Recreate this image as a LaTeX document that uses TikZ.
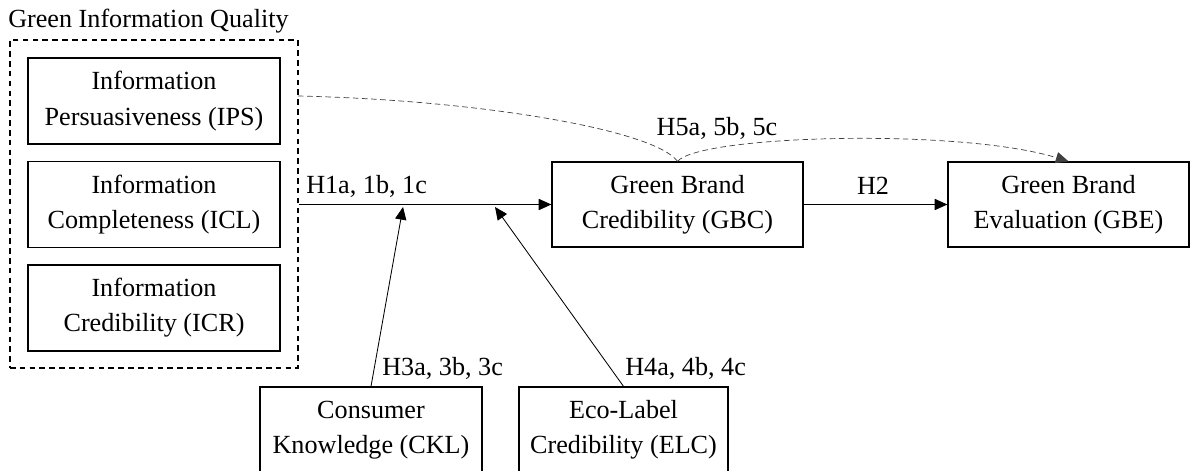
\documentclass[tikz,border=0pt]{standalone}
\usepackage{fontspec}
\setmainfont{Liberation Serif}
\usetikzlibrary{arrows.meta}

\begin{document}
\begin{tikzpicture}[x=0.025cm,y=0.025cm,
    font=\fontsize{18.6}{25}\selectfont,
    box/.style={draw,line width=0.9pt,align=center,inner sep=0pt},
    link/.style={line width=0.6pt,-{Triangle[length=9pt,width=8pt]}},
    hyp/.style={inner sep=0pt}]
        \useasboundingbox (0,0) rectangle (1194,-470);
        % information quality group
        \node [anchor=base west,inner sep=0pt] (giqlabel) at (8,-27) {Green Information Quality};
        \node [draw,line width=0.9pt,dash pattern=on 4pt off 3pt,minimum width=7.2cm,minimum height=8.2cm,inner sep=0pt] (giq) at (154,-204) {};
        \node [box,minimum width=6.3cm,minimum height=2.15cm] (ips) at (154,-101) {Information\\Persuasiveness (IPS)};
        \node [box,minimum width=6.3cm,minimum height=2.15cm] (icl) at (154,-204.5) {Information\\Completeness (ICL)};
        \node [box,minimum width=6.3cm,minimum height=2.15cm] (icr) at (154,-308) {Information\\Credibility (ICR)};
        % brand boxes
        \node [box,minimum width=6.275cm,minimum height=2.125cm] (gbc) at (677.5,-204.5) {Green Brand\\Credibility (GBC)};
        \node [box,minimum width=6.025cm,minimum height=2.125cm] (gbe) at (1068.5,-204.5) {Green Brand\\Evaluation (GBE)};
        % moderators
        \node [box,minimum width=5.55cm,minimum height=2.15cm] (ckl) at (371,-430) {Consumer\\Knowledge (CKL)};
        \node [box,minimum width=5.225cm,minimum height=2.15cm] (elc) at (623.5,-430) {Eco-Label\\Credibility (ELC)};
        \coordinate (h3tip) at (403,-207);
        \coordinate (h4tip) at (495,-207);
        \coordinate (h5start) at (298,-96);
        % paths
        \draw [link] (giq.east |- gbc.west) -- (gbc.west);
        \draw [link] (gbc.east) -- (gbe.west);
        \draw [link] (ckl.north) -- (h3tip);
        \draw [link] (elc.north) -- (h4tip);
        \draw [line width=0.5pt,black!75,dash pattern=on 4pt off 2.5pt] (h5start) .. controls (480,-100) and (655,-130) .. (gbc.north);
        \draw [line width=0.5pt,black!75,dash pattern=on 4pt off 2.5pt,-{Triangle[length=9pt,width=8pt]}] (gbc.north) .. controls (700,-135) and (960,-128) .. (gbe.north);
        % labels
        \node [hyp,anchor=base west] (h1) at (306,-193) {H1a, 1b, 1c};
        \node [hyp,anchor=base] (h2) at (873,-194) {H2};
        \node [hyp,anchor=base west] (h3) at (382,-375) {H3a, 3b, 3c};
        \node [hyp,anchor=base west] (h4) at (625,-375) {H4a, 4b, 4c};
        \node [hyp,anchor=base] (h5) at (717,-135) {H5a, 5b, 5c};
\end{tikzpicture}
\end{document}
